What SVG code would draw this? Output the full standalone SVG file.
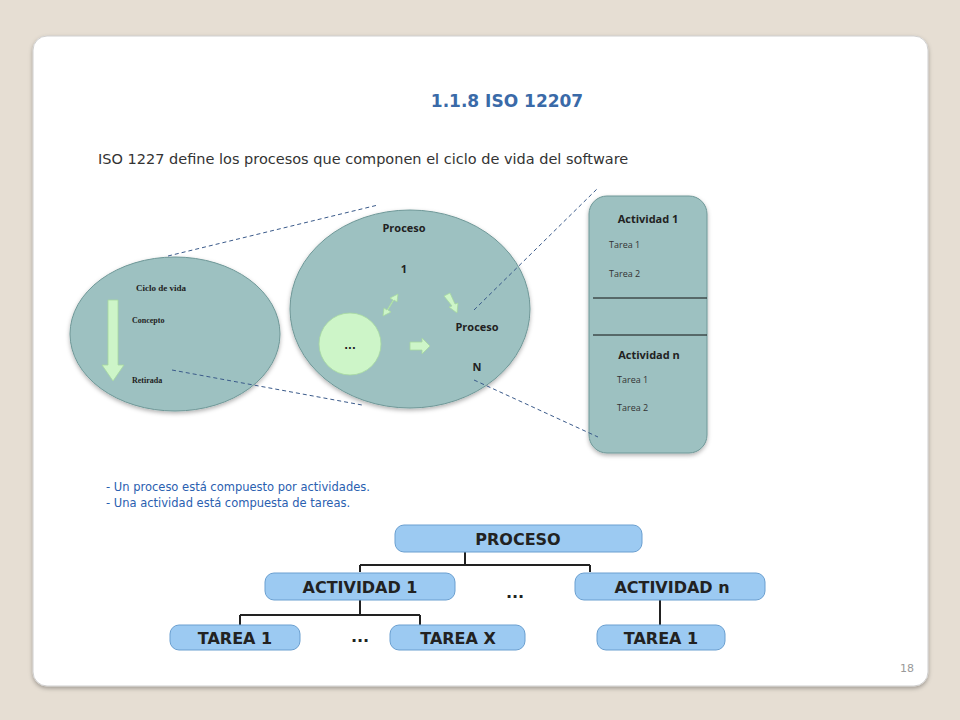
<svg xmlns="http://www.w3.org/2000/svg" width="960" height="720" viewBox="0 0 960 720">
<defs>
<style>
.s{font-family:"DejaVu Sans",Verdana,sans-serif}
.o{font-family:"Open Sans","Liberation Sans",sans-serif}
.t{font-family:"Liberation Serif",serif}
.bub{fill:#9dc1c1;stroke:#6f9898;stroke-width:1}
.dash{stroke:#3a5a8a;stroke-width:1;stroke-dasharray:4 3;fill:none}
.gr{fill:#cdf5c8;stroke:#a6d8a0;stroke-width:0.8}
.tb{fill:#9ccaf2;stroke:#6a9fd0;stroke-width:1}
.tl{stroke:#222;stroke-width:2;fill:none}
.tt{font-family:"DejaVu Sans",sans-serif;font-weight:bold;font-size:16px;fill:#222;text-anchor:middle}
</style>
<filter id="sh" x="-5%" y="-5%" width="110%" height="110%"><feDropShadow dx="0" dy="2" stdDeviation="2" flood-color="#000" flood-opacity="0.3"/></filter>
</defs>
<rect width="960" height="720" fill="#e6ded3"/>
<rect x="33" y="36" width="895" height="650" rx="14" fill="#fff" stroke="#cfcfcf" filter="url(#sh)"/>
<text x="507" y="107" class="s" font-size="17" font-weight="bold" fill="#3a6aa8" text-anchor="middle">1.1.8 ISO 12207</text>
<text x="98" y="164" class="s" font-size="14.5" fill="#333">ISO 1227 define los procesos que componen el ciclo de vida del software</text>

<g id="ciclo">
<ellipse cx="175" cy="334" rx="105" ry="77" class="bub" filter="url(#sh)"/>
<path d="M108 300 h10 v65 h6 l-11 16 l-11 -16 h6 z" class="gr"/>
<text x="136" y="291" class="t" font-size="9" font-weight="bold" fill="#222">Ciclo de vida</text>
<text x="132" y="323" class="t" font-size="8" font-weight="bold" fill="#222">Concepto</text>
<text x="132" y="383" class="t" font-size="8" font-weight="bold" fill="#222">Retirada</text>
</g>
<g id="procesos">
<ellipse cx="410" cy="309" rx="120" ry="99" class="bub" filter="url(#sh)"/>
<circle cx="350" cy="344" r="31" class="gr"/>
<text x="350" y="349" class="s" font-size="10" font-weight="bold" text-anchor="middle" fill="#222">...</text>
<text x="404" y="232" class="o" font-size="11" font-weight="bold" text-anchor="middle" fill="#222">Proceso</text>
<text x="404" y="273" class="o" font-size="11" font-weight="bold" text-anchor="middle" fill="#222">1</text>
<text x="477" y="331" class="o" font-size="11" font-weight="bold" text-anchor="middle" fill="#222">Proceso</text>
<text x="477" y="371" class="o" font-size="11" font-weight="bold" text-anchor="middle" fill="#222">N</text>
<path d="M383 316 l1 -8 l3 2 l6 -10 l-3 -2 l8 -4 l-1 8 l-3 -2 l-6 10 l3 2 z" class="gr"/>
<path d="M444 296 l6 -3 l5 11 l3 -1 l-1 10 l-8 -6 l3 -1 z" class="gr"/>
<path d="M410 342 h12 v-4 l8 8 l-8 8 v-4 h-12 z" class="gr"/>
</g>
<g id="actividades">
<rect x="589" y="196" width="118" height="257" rx="18" class="bub" filter="url(#sh)"/>
<line x1="593" y1="298" x2="707" y2="298" stroke="#111" stroke-width="1"/>
<line x1="593" y1="335" x2="707" y2="335" stroke="#111" stroke-width="1"/>
<text x="648" y="223" class="o" font-size="11" font-weight="bold" text-anchor="middle" fill="#222">Actividad 1</text>
<text x="609" y="248" class="o" font-size="9" fill="#333">Tarea 1</text>
<text x="609" y="277" class="o" font-size="9" fill="#333">Tarea 2</text>
<text x="649" y="359" class="o" font-size="11" font-weight="bold" text-anchor="middle" fill="#222">Actividad n</text>
<text x="617" y="383" class="o" font-size="9" fill="#333">Tarea 1</text>
<text x="617" y="411" class="o" font-size="9" fill="#333">Tarea 2</text>
</g>
<g id="connectors">
<line x1="168" y1="256" x2="378" y2="205" class="dash"/>
<line x1="172" y1="370" x2="362" y2="405" class="dash"/>
<line x1="474" y1="310" x2="598" y2="188" class="dash"/>
<line x1="474" y1="380" x2="598" y2="437" class="dash"/>
<path d="M465 552 V565 M360 565 H590 M360 565 V572 M590 565 V572 M360 600 V615 M240 615 H420 M240 615 V625 M420 615 V625 M660 600 V625" class="tl"/>
</g>
<text x="106" y="491" class="s" font-size="11.5" fill="#2a60b0">- Un proceso está compuesto por actividades.</text>
<text x="106" y="507" class="s" font-size="11.5" fill="#2a60b0">- Una actividad está compuesta de tareas.</text>

<g id="t-proceso"><rect x="395" y="525" width="247" height="27" rx="9" class="tb"/><text x="518" y="545" class="tt" font-size="21">PROCESO</text></g>
<g id="t-act1"><rect x="265" y="573" width="190" height="27" rx="9" class="tb"/><text x="360" y="593" class="tt">ACTIVIDAD 1</text></g>
<text x="515" y="598" class="tt" font-size="26">...</text>
<g id="t-actn"><rect x="575" y="573" width="190" height="27" rx="9" class="tb"/><text x="672" y="593" class="tt">ACTIVIDAD n</text></g>
<g id="t-t1"><rect x="170" y="625" width="130" height="25" rx="9" class="tb"/><text x="235" y="644" class="tt">TAREA 1</text></g>
<text x="360" y="642" class="tt">...</text>
<g id="t-tx"><rect x="390" y="625" width="135" height="25" rx="9" class="tb"/><text x="458" y="644" class="tt">TAREA X</text></g>
<g id="t-t1n"><rect x="597" y="625" width="128" height="25" rx="9" class="tb"/><text x="661" y="644" class="tt">TAREA 1</text></g>
<text x="914" y="672" class="s" font-size="11" fill="#999" text-anchor="end">18</text>
</svg>
